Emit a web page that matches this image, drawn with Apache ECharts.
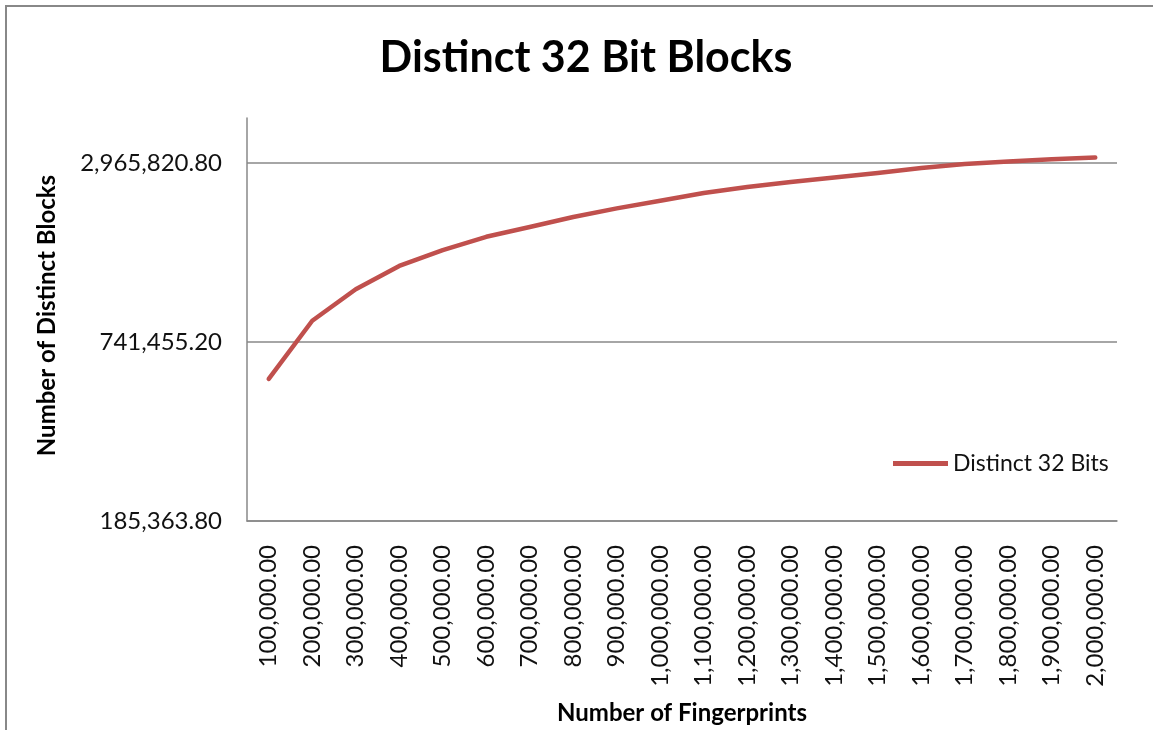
<!DOCTYPE html>
<html>
<head>
<meta charset="utf-8">
<script src="https://cdn.jsdelivr.net/npm/echarts@6/dist/echarts.min.js"></script>
<style>
    html, body { margin: 0; padding: 0; background: #fff; }
    #frame { position: absolute; left: 5px; top: 5px; width: 1148px; height: 725px;
             border-top: 2px solid #888; border-left: 2px solid #888; }
    #charts { position: absolute; left: 0; top: 0; width: 1153px; height: 730px; }
</style>
</head>
<body>
<div id="frame"></div>
<div id="charts"></div>
<script>
// fingerprints on the x axis
var fingerprints = [
    '100,000.00', '200,000.00', '300,000.00', '400,000.00', '500,000.00',
    '600,000.00', '700,000.00', '800,000.00', '900,000.00', '1,000,000.00',
    '1,100,000.00', '1,200,000.00', '1,300,000.00', '1,400,000.00', '1,500,000.00',
    '1,600,000.00', '1,700,000.00', '1,800,000.00', '1,900,000.00', '2,000,000.00'
];
// distinct 32 bit blocks
var distinctBlocks = [
    557300, 874500, 1116100, 1336600, 1512000,
    1675500, 1808100, 1954100, 2088500, 2217000,
    2353000, 2463000, 2560600, 2651000, 2744500,
    2853100, 2945600, 3003300, 3057800, 3096300
];
// log axis, base 4, starting at this value
var yBase = 185363.8;
var yLogBase = 4;
var yTop = 2.252;

var font = 'Lato';
var myChart = echarts.init(document.getElementById('charts'));

// position on the log axis
var logPos = distinctBlocks.map(function (v) {
    return Math.log(v / yBase) / Math.log(yLogBase);
});

option = {
    animation: false,
    title: {
        text: 'Distinct 32 Bit Blocks',
        left: 581,
        textAlign: 'center',
        top: 32,
        textStyle: { fontFamily: font, fontSize: 43, fontWeight: 'bold', color: '#000' }
    },
    legend: {
        left: 888,
        top: 447,
        icon: 'rect',
        itemWidth: 55,
        itemHeight: 5,
        textStyle: { fontFamily: font, fontSize: 23, color: '#111' },
        data: ['Distinct 32 Bits']
    },
    grid: { left: 247, right: 36, top: 118, bottom: 207, containLabel: false },
    xAxis: {
        type: 'category',
        data: fingerprints,
        boundaryGap: true,
        name: 'Number of Fingerprints',
        nameLocation: 'middle',
        nameGap: 180,
        nameTextStyle: { fontFamily: font, fontSize: 24, fontWeight: 'bold', color: '#000' },
        axisLine: { lineStyle: { color: '#888', width: 1.5 } },
        axisTick: { show: false },
        axisLabel: {
            rotate: 90, margin: 24, interval: 0,
            fontFamily: font, fontSize: 24, color: '#111'
        },
        splitLine: { show: false }
    },
    yAxis: {
        type: 'value',
        min: 0,
        max: yTop,
        interval: 1,
        name: 'Number of Distinct Blocks',
        nameLocation: 'middle',
        nameGap: 188,
        nameTextStyle: {
            fontFamily: font, fontSize: 24, fontWeight: 'bold', color: '#000',
            padding: [0, 0, 0, 8]
        },
        axisLine: { show: true, lineStyle: { color: '#888', width: 1.5 } },
        axisTick: { show: false },
        axisLabel: {
            margin: 25, fontFamily: font, fontSize: 24, color: '#111',
            formatter: function (val) {
                if (Math.abs(val - Math.round(val)) > 1e-6) return '';
                var v = yBase * Math.pow(yLogBase, Math.round(val));
                return v.toLocaleString('en-US', { minimumFractionDigits: 2, maximumFractionDigits: 2 });
            }
        },
        splitLine: { show: true, showMaxLine: false, lineStyle: { color: '#888', width: 1.5 } }
    },
    series: [{
        name: 'Distinct 32 Bits',
        type: 'line',
        data: logPos,
        symbol: 'none',
        color: '#C0504D',
        lineStyle: { width: 4.5, color: '#C0504D', cap: 'round', join: 'round' }
    }]
};
myChart.setOption(option);
</script>
</body>
</html>
